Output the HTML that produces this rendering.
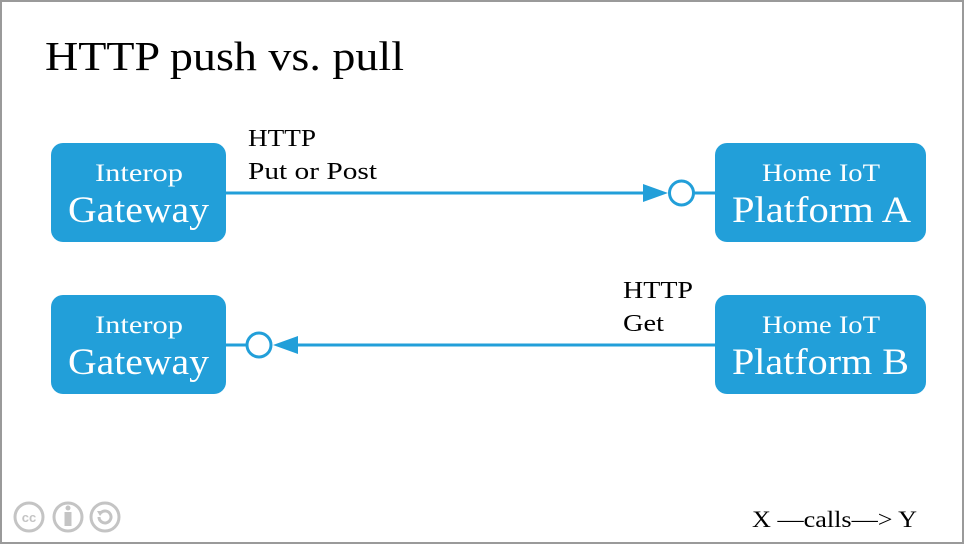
<!DOCTYPE html>
<html><head><meta charset="utf-8"><style>
html,body{margin:0;padding:0;background:#fff}
svg{display:block}
text{font-family:"Liberation Serif",serif}
</style></head><body>
<svg width="964" height="544" viewBox="0 0 964 544" xmlns="http://www.w3.org/2000/svg">
<rect x="1" y="1" width="962" height="542" fill="#fff" stroke="#9a9a9a" stroke-width="2"/>
<text x="45" y="70" font-size="41" fill="#000" textLength="359" lengthAdjust="spacingAndGlyphs">HTTP push vs. pull</text>

<g fill="#229fd9">
<rect x="51" y="143" width="175" height="99" rx="12"/>
<rect x="715" y="143" width="211" height="99" rx="12"/>
<rect x="51" y="295" width="175" height="99" rx="12"/>
<rect x="715" y="295" width="211" height="99" rx="12"/>
</g>
<g fill="#fff" lengthAdjust="spacingAndGlyphs">
<text x="95" y="181" font-size="25" textLength="88" lengthAdjust="spacingAndGlyphs">Interop</text>
<text x="68" y="222" font-size="37" textLength="141" lengthAdjust="spacingAndGlyphs">Gateway</text>
<text x="762" y="181" font-size="25" textLength="118" lengthAdjust="spacingAndGlyphs">Home IoT</text>
<text x="732" y="222" font-size="37" textLength="179" lengthAdjust="spacingAndGlyphs">Platform A</text>
<text x="95" y="333" font-size="25" textLength="88" lengthAdjust="spacingAndGlyphs">Interop</text>
<text x="68" y="374" font-size="37" textLength="141" lengthAdjust="spacingAndGlyphs">Gateway</text>
<text x="762" y="333" font-size="25" textLength="118" lengthAdjust="spacingAndGlyphs">Home IoT</text>
<text x="732" y="374" font-size="37" textLength="177" lengthAdjust="spacingAndGlyphs">Platform B</text>
</g>

<g stroke="#229fd9" stroke-width="3" fill="none">
<line x1="226" y1="193" x2="650" y2="193"/>
<line x1="694" y1="193" x2="715" y2="193"/>
<circle cx="681.5" cy="193" r="12"/>
<line x1="226" y1="345" x2="246" y2="345"/>
<circle cx="259" cy="345" r="12"/>
<line x1="290" y1="345" x2="715" y2="345"/>
</g>
<polygon points="643,184 668,193 643,202" fill="#229fd9"/>
<polygon points="298,336 273,345 298,354" fill="#229fd9"/>

<g fill="#000" font-size="24">
<text x="248" y="146" textLength="68" lengthAdjust="spacingAndGlyphs">HTTP</text>
<text x="248" y="179" textLength="129" lengthAdjust="spacingAndGlyphs">Put or Post</text>
<text x="623" y="298" textLength="70" lengthAdjust="spacingAndGlyphs">HTTP</text>
<text x="623" y="331" textLength="41" lengthAdjust="spacingAndGlyphs">Get</text>
<text x="752" y="527" font-size="23" textLength="165" lengthAdjust="spacingAndGlyphs">X —calls—&gt; Y</text>
</g>

<g stroke="#c4c4c4" stroke-width="3" fill="none">
<circle cx="29" cy="517" r="14"/>
<circle cx="68" cy="517" r="14"/>
<circle cx="105" cy="517" r="14"/>
</g>
<text x="29" y="522" font-size="13" font-weight="bold" fill="#c4c4c4" text-anchor="middle" style="font-family:'Liberation Sans',sans-serif">cc</text>
<circle cx="68" cy="508" r="2.5" fill="#c4c4c4"/>
<rect x="64.5" y="512" width="7" height="14" fill="#c4c4c4"/>
<path d="M99 517 a6 6 0 1 0 2 -4.5" stroke="#c4c4c4" stroke-width="3" fill="none"/>
<polygon points="97,511 104,511 100,516" fill="#c4c4c4"/>
</svg>
</body></html>
